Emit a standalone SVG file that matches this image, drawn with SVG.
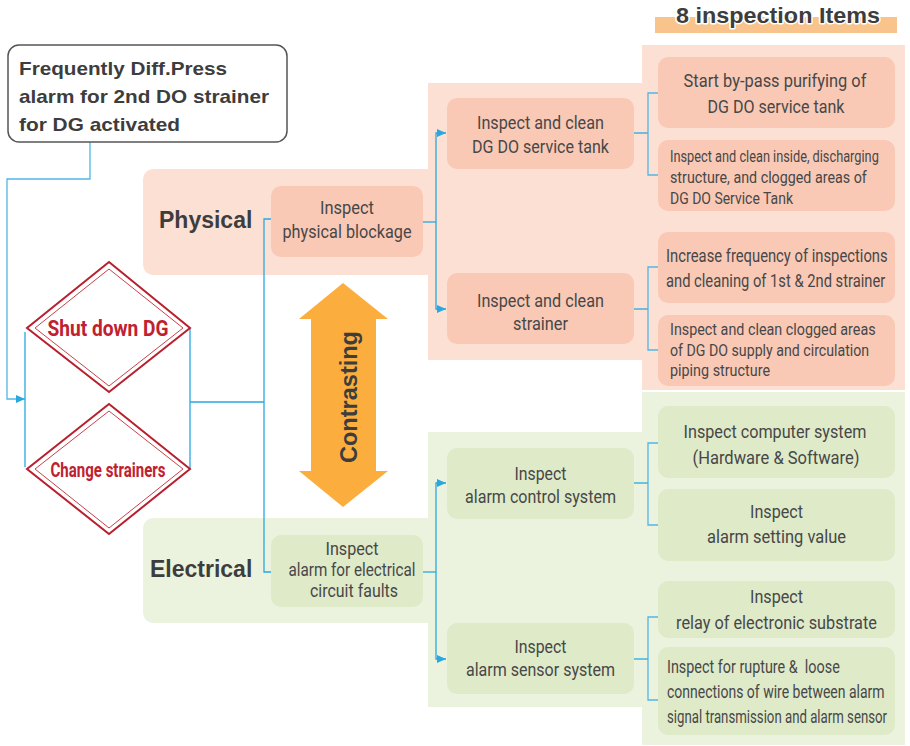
<svg xmlns="http://www.w3.org/2000/svg" width="910" height="746" viewBox="0 0 910 746">
<style>
.t{font-family:Roboto,"Liberation Sans",sans-serif;font-size:19px;fill:#474747;text-anchor:middle}
.e{font-size:18px}
.s{font-size:16.5px;text-anchor:start}
.l{font-size:18px;text-anchor:start}
.st{text-anchor:start}
.b{font-family:"Liberation Sans",Arial,sans-serif;font-weight:bold;fill:#3d3d3d}
.pn{fill:#f9c9b6}
.gn{fill:#dfeac9}
.pb{fill:#fce0d4}
.gb{fill:#ebf3df}
.c{fill:none;stroke:#29a8e0;stroke-width:1.3}
.k{fill:none;stroke:#52b5e6;stroke-width:1.3}
.dm{fill:#fff;stroke:#b8202e;stroke-width:2}
.di{fill:none;stroke:#c8414c;stroke-width:1}
.dt{font-family:Roboto,"Liberation Sans",sans-serif;font-weight:bold;fill:#c0202f;text-anchor:middle}
</style>
<defs>
<marker id="ar" markerUnits="userSpaceOnUse" markerWidth="10" markerHeight="8" refX="9" refY="4" orient="auto">
<path d="M0,0 L9,4 L0,8 Z" fill="#29a8e0"/>
</marker>
</defs>

<g id="bands">
<path class="pb" d="M155,169 H428 V83 H642 V45 H905 V390 H642 V360 H428 V275 H155 Q143,275 143,263 V181 Q143,169 155,169 Z"/>
<path class="gb" d="M155,518 H428 V432 H642 V392 H905 V745 H642 V707 H428 V623 H155 Q143,623 143,611 V530 Q143,518 155,518 Z"/>
<rect x="655" y="17" width="242" height="16" fill="#f8c48c"/>
<text class="b" x="778" y="23" font-size="22" text-anchor="middle" textLength="204" lengthAdjust="spacingAndGlyphs" stroke="#fff" stroke-width="3" paint-order="stroke" stroke-linejoin="round">8 inspection Items</text>
</g>

<g id="connectors">
<path class="k" d="M90,142 V179 H7 V399 H25" stroke="#7cc6ea" marker-end="url(#ar)"/>
<path class="c" d="M25,332 V467"/>
<path class="c" d="M190,328 V470 M190,402 H264"/>
<path class="c" d="M264,402 V219 H282" marker-end="url(#ar)"/>
<path class="c" d="M264,402 V572 H282" marker-end="url(#ar)"/>
<path class="c" d="M423,222 H436"/>
<path class="c" d="M436,222 V133 H446" marker-end="url(#ar)"/>
<path class="c" d="M436,222 V309 H446" marker-end="url(#ar)"/>
<path class="c" d="M423,572 H436"/>
<path class="c" d="M436,572 V483 H446" marker-end="url(#ar)"/>
<path class="c" d="M436,572 V659 H446" marker-end="url(#ar)"/>
<path class="c" d="M634,133 H648"/>
<path class="k" d="M658,93 H648 V175 H658"/>
<path class="c" d="M634,309 H648"/>
<path class="k" d="M658,267 H648 V350 H658"/>
<path class="c" d="M634,483 H648"/>
<path class="k" d="M658,443 H648 V525 H658"/>
<path class="c" d="M634,659 H648"/>
<path class="k" d="M658,617 H648 V700 H658"/>
</g>

<g id="start">
<rect x="8" y="45" width="279" height="97" rx="11" fill="#fff" stroke="#555" stroke-width="1.5"/>
<text class="b" x="19" y="75" font-size="19" textLength="208" lengthAdjust="spacingAndGlyphs">Frequently Diff.Press</text>
<text class="b" x="19" y="103" font-size="19" textLength="250" lengthAdjust="spacingAndGlyphs">alarm for 2nd DO strainer</text>
<text class="b" x="19" y="131" font-size="19" textLength="161" lengthAdjust="spacingAndGlyphs">for DG activated</text>
</g>

<g id="shutdown">
<polygon class="dm" points="109,262 190,328 109,392 27,328"/>
<polygon class="di" points="109,269 183,328 109,386 35,328"/>
<text class="dt" x="108" y="336" font-size="22" textLength="121" lengthAdjust="spacingAndGlyphs">Shut down DG</text>
</g>

<g id="change">
<polygon class="dm" points="109,404 190,469 109,534 27,469"/>
<polygon class="di" points="109,411 183,469 109,528 35,469"/>
<text class="dt" x="108" y="477" font-size="20" textLength="115" lengthAdjust="spacingAndGlyphs">Change strainers</text>
</g>

<g id="contrasting">
<polygon points="343,283 388,319 376,319 376,471 388,471 343,507 299,471 311,471 311,319 299,319" fill="#fbae3e"/>
<text class="b" transform="translate(357,397) rotate(-90)" x="0" y="0" font-size="23" text-anchor="middle" textLength="132" lengthAdjust="spacingAndGlyphs">Contrasting</text>
</g>

<g id="physical-label"><text class="b" x="159" y="228" font-size="23">Physical</text></g>
<g id="electrical-label"><text class="b" x="150" y="577" font-size="23">Electrical</text></g>

<g id="n-physical">
<rect class="pn" x="271" y="186" width="152" height="71" rx="10"/>
<text class="t" x="347" y="214" textLength="54" lengthAdjust="spacingAndGlyphs">Inspect</text>
<text class="t" x="347" y="238" textLength="129" lengthAdjust="spacingAndGlyphs">physical blockage</text>
</g>

<g id="n-tank">
<rect class="pn" x="447" y="98" width="187" height="71" rx="10"/>
<text class="t" x="540.5" y="129" textLength="127" lengthAdjust="spacingAndGlyphs">Inspect and clean</text>
<text class="t" x="540.5" y="153" textLength="137" lengthAdjust="spacingAndGlyphs">DG DO service tank</text>
</g>

<g id="n-strainer">
<rect class="pn" x="447" y="273" width="187" height="71" rx="10"/>
<text class="t" x="540.5" y="307" textLength="127" lengthAdjust="spacingAndGlyphs">Inspect and clean</text>
<text class="t" x="540.5" y="330" textLength="55" lengthAdjust="spacingAndGlyphs">strainer</text>
</g>

<g id="n-electrical">
<rect class="gn" x="271" y="535" width="152" height="72" rx="10"/>
<text class="t e" x="352" y="555" textLength="53" lengthAdjust="spacingAndGlyphs">Inspect</text>
<text class="t e" x="352" y="576" textLength="127" lengthAdjust="spacingAndGlyphs">alarm for electrical</text>
<text class="t e" x="354" y="597" textLength="88" lengthAdjust="spacingAndGlyphs">circuit faults</text>
</g>

<g id="n-control">
<rect class="gn" x="447" y="448" width="187" height="71" rx="10"/>
<text class="t" x="540.5" y="480" textLength="52" lengthAdjust="spacingAndGlyphs">Inspect</text>
<text class="t" x="540.5" y="503" textLength="151" lengthAdjust="spacingAndGlyphs">alarm control system</text>
</g>

<g id="n-sensor">
<rect class="gn" x="447" y="623" width="187" height="71" rx="10"/>
<text class="t" x="540.5" y="653" textLength="52" lengthAdjust="spacingAndGlyphs">Inspect</text>
<text class="t" x="540.5" y="676" textLength="149" lengthAdjust="spacingAndGlyphs">alarm sensor system</text>
</g>

<g id="i1">
<rect class="pn" x="658" y="57" width="237" height="71" rx="10"/>
<text class="t" transform="translate(775,87) scale(0.82,1)" textLength="223" lengthAdjust="spacingAndGlyphs">Start by-pass purifying of</text>
<text class="t" x="776" y="113" textLength="137" lengthAdjust="spacingAndGlyphs">DG DO service tank</text>
</g>

<g id="i2">
<rect class="pn" x="658" y="140" width="237" height="71" rx="10"/>
<text class="t s" transform="translate(670,162) scale(0.8,1)" textLength="261" lengthAdjust="spacingAndGlyphs">Inspect and clean inside, discharging</text>
<text class="t s" transform="translate(670,183) scale(0.8,1)" textLength="246" lengthAdjust="spacingAndGlyphs">structure, and clogged areas of</text>
<text class="t s" x="670" y="204" textLength="123" lengthAdjust="spacingAndGlyphs">DG DO Service Tank</text>
</g>

<g id="i3">
<rect class="pn" x="658" y="232" width="237" height="71" rx="10"/>
<text class="t st" transform="translate(666,262) scale(0.8,1)" textLength="277" lengthAdjust="spacingAndGlyphs">Increase frequency of inspections</text>
<text class="t st" transform="translate(666,287) scale(0.8,1)" textLength="274" lengthAdjust="spacingAndGlyphs">and cleaning of 1st &amp; 2nd strainer</text>
</g>

<g id="i4">
<rect class="pn" x="658" y="315" width="237" height="71" rx="10"/>
<text class="t s" transform="translate(670,335) scale(0.8,1)" textLength="257" lengthAdjust="spacingAndGlyphs">Inspect and clean clogged areas</text>
<text class="t s" transform="translate(670,356) scale(0.8,1)" textLength="249" lengthAdjust="spacingAndGlyphs">of DG DO supply and circulation</text>
<text class="t s" x="670" y="376" textLength="100" lengthAdjust="spacingAndGlyphs">piping structure</text>
</g>

<g id="i5">
<rect class="gn" x="658" y="406" width="237" height="72" rx="10"/>
<text class="t" transform="translate(775,438) scale(0.82,1)" textLength="223" lengthAdjust="spacingAndGlyphs">Inspect computer system</text>
<text class="t" x="776" y="464" textLength="167" lengthAdjust="spacingAndGlyphs">(Hardware &amp; Software)</text>
</g>

<g id="i6">
<rect class="gn" x="658" y="489" width="237" height="72" rx="10"/>
<text class="t" x="776.5" y="518" textLength="53" lengthAdjust="spacingAndGlyphs">Inspect</text>
<text class="t" x="776.5" y="543" textLength="139" lengthAdjust="spacingAndGlyphs">alarm setting value</text>
</g>

<g id="i7">
<rect class="gn" x="658" y="581" width="237" height="57" rx="10"/>
<text class="t" x="776.5" y="603" textLength="53" lengthAdjust="spacingAndGlyphs">Inspect</text>
<text class="t" transform="translate(776.5,629) scale(0.8,1)" textLength="251" lengthAdjust="spacingAndGlyphs">relay of electronic substrate</text>
</g>

<g id="i8">
<rect class="gn" x="658" y="647" width="237" height="88" rx="10"/>
<text class="t l" transform="translate(667,673) scale(0.8,1)" style="white-space:pre" textLength="216" lengthAdjust="spacingAndGlyphs">Inspect for rupture &amp;  loose</text>
<text class="t l" transform="translate(667,698) scale(0.8,1)" textLength="272" lengthAdjust="spacingAndGlyphs">connections of wire between alarm</text>
<text class="t l" transform="translate(667,723) scale(0.8,1)" textLength="275" lengthAdjust="spacingAndGlyphs">signal transmission and alarm sensor</text>
</g>
</svg>
